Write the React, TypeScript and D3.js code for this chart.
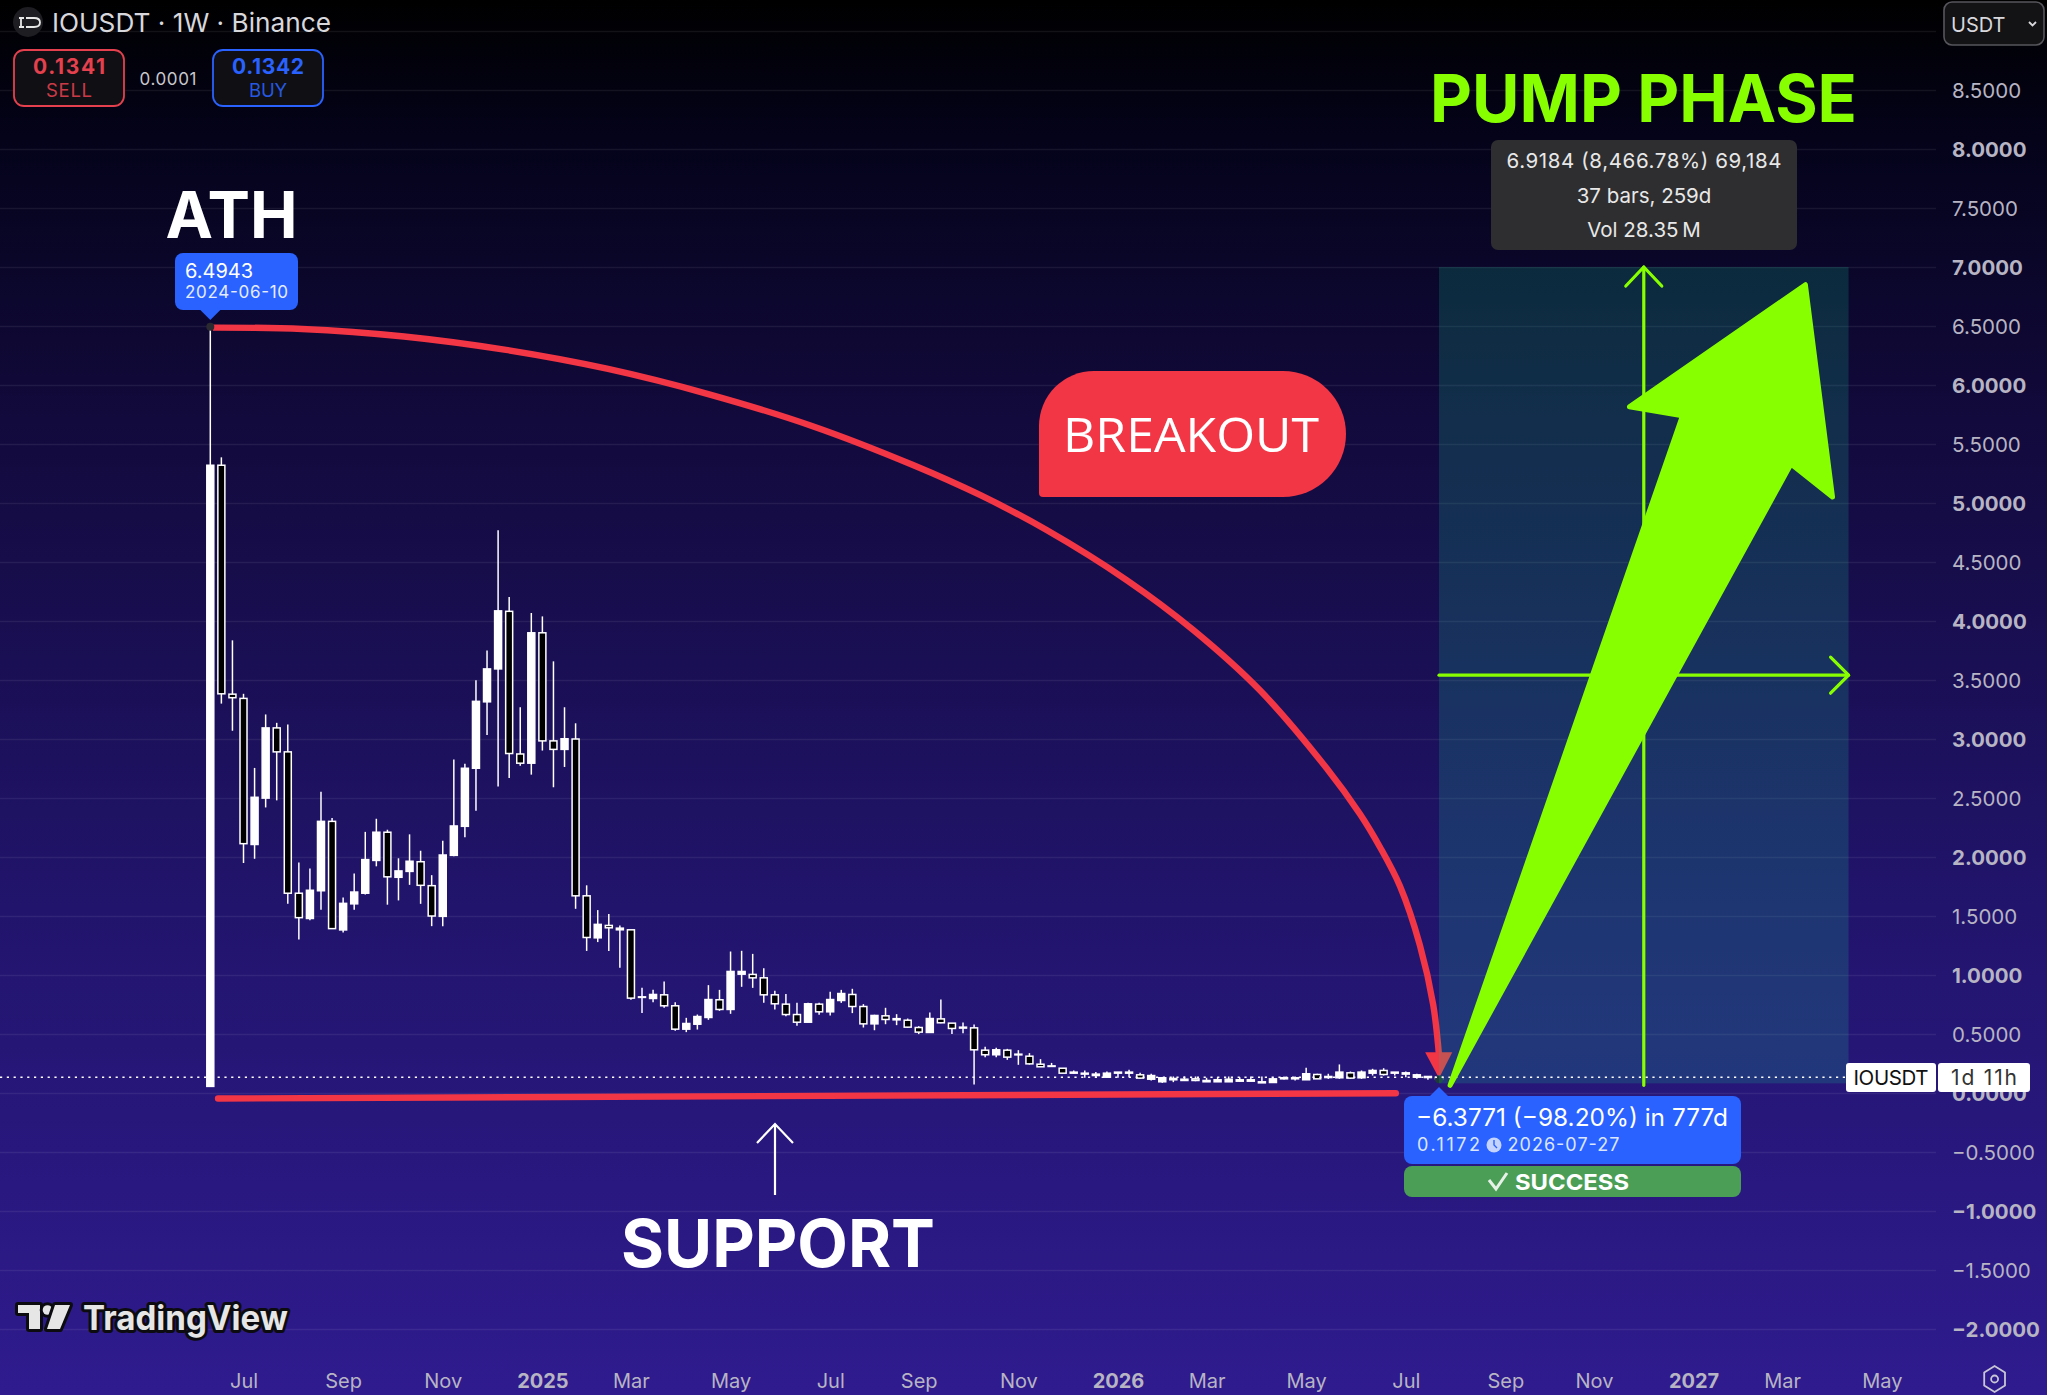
import { useEffect, useRef } from "react";
import * as d3 from "d3";

const WIDTH = 2047;
const HEIGHT = 1395;

// Weekly candles, 2024-06-10 to 2026-07-27
const opens = [
  0.056, 5.32, 3.38, 3.344, 2.106, 2.499, 3.094, 2.891, 1.693, 1.479,
  1.714, 2.302, 1.382, 1.603, 1.693, 1.971, 2.21, 1.828, 1.878, 1.96,
  1.757, 1.497, 2.014, 2.26, 2.752, 3.315, 3.594, 4.082, 2.873, 2.795,
  3.9, 2.984, 2.912, 3.0, 1.671, 1.315, 1.42, 1.383, 1.383, 0.81,
  0.801, 0.832, 0.739, 0.541, 0.583, 0.64, 0.79, 0.708, 1.007, 1.005,
  0.976, 0.832, 0.753, 0.665, 0.6, 0.753, 0.688, 0.784, 0.835, 0.733,
  0.586, 0.654, 0.63, 0.617, 0.555, 0.513, 0.628, 0.592, 0.558, 0.552,
  0.363, 0.324, 0.363, 0.329, 0.312, 0.244, 0.23, 0.21, 0.168, 0.168,
  0.16, 0.134, 0.177, 0.168, 0.154, 0.117, 0.095, 0.123, 0.117, 0.12,
  0.106, 0.095, 0.095, 0.112, 0.112, 0.095, 0.089, 0.12, 0.129, 0.112,
  0.157, 0.14, 0.129, 0.171, 0.129, 0.168, 0.191, 0.177, 0.171, 0.134, 0.14, 0.134,
];
const highs = [
  6.4943, 5.387, 3.836, 3.383, 2.755, 3.208, 3.137, 3.123, 1.953, 1.903,
  2.552, 2.331, 1.657, 1.86, 2.213, 2.324, 2.231, 1.989, 2.192, 2.053,
  1.846, 2.138, 2.827, 2.791, 3.497, 3.75, 4.77, 4.203, 3.269, 4.068,
  4.039, 3.658, 3.269, 3.133, 1.76, 1.55, 1.518, 1.42, 1.383, 0.891,
  0.874, 0.945, 0.77, 0.637, 0.665, 0.914, 0.874, 1.199, 1.205, 1.179,
  1.058, 0.866, 0.84, 0.764, 0.764, 0.764, 0.857, 0.874, 0.883, 0.753,
  0.663, 0.722, 0.668, 0.631, 0.566, 0.682, 0.792, 0.592, 0.597, 0.58,
  0.391, 0.383, 0.374, 0.363, 0.338, 0.287, 0.255, 0.21, 0.191, 0.191,
  0.177, 0.182, 0.177, 0.196, 0.171, 0.163, 0.134, 0.14, 0.14, 0.14,
  0.129, 0.134, 0.14, 0.134, 0.14, 0.14, 0.129, 0.14, 0.14, 0.213,
  0.163, 0.163, 0.242, 0.182, 0.191, 0.205, 0.21, 0.177, 0.182, 0.163, 0.14, 0.148,
];
const lows = [
  0.056, 3.3, 3.07, 1.949, 1.985, 2.42, 2.48, 1.603, 1.3, 1.464,
  1.553, 1.393, 1.361, 1.553, 1.682, 1.921, 1.596, 1.632, 1.764, 1.603,
  1.414, 1.414, 2.006, 2.167, 2.392, 3.034, 2.598, 2.67, 2.773, 2.698,
  2.902, 2.591, 2.763, 1.561, 1.204, 1.279, 1.204, 1.061, 0.79, 0.677,
  0.77, 0.722, 0.527, 0.516, 0.538, 0.62, 0.696, 0.671, 0.9, 0.891,
  0.764, 0.708, 0.651, 0.569, 0.6, 0.663, 0.657, 0.764, 0.677, 0.555,
  0.532, 0.583, 0.575, 0.552, 0.499, 0.513, 0.592, 0.499, 0.507, 0.072,
  0.304, 0.304, 0.281, 0.239, 0.241, 0.222, 0.222, 0.168, 0.163, 0.129,
  0.129, 0.129, 0.129, 0.134, 0.12, 0.106, 0.086, 0.092, 0.106, 0.1,
  0.095, 0.095, 0.095, 0.095, 0.1, 0.086, 0.089, 0.114, 0.106, 0.112,
  0.12, 0.12, 0.12, 0.12, 0.12, 0.148, 0.148, 0.148, 0.134, 0.12, 0.112, 0.106,
];
const closes = [
  5.32, 3.383, 3.35, 2.113, 2.506, 3.094, 2.891, 1.693, 1.486, 1.718,
  2.302, 1.393, 1.607, 1.703, 1.978, 2.21, 1.832, 1.882, 1.964, 1.76,
  1.5, 2.017, 2.263, 2.752, 3.319, 3.594, 4.086, 2.877, 2.795, 3.9,
  2.984, 2.912, 3.002, 1.671, 1.318, 1.429, 1.4, 1.397, 0.804, 0.815,
  0.835, 0.739, 0.541, 0.589, 0.648, 0.792, 0.708, 1.03, 1.03, 0.976,
  0.832, 0.756, 0.665, 0.6, 0.756, 0.688, 0.792, 0.843, 0.733, 0.586,
  0.657, 0.623, 0.62, 0.558, 0.516, 0.631, 0.595, 0.547, 0.55, 0.366,
  0.324, 0.366, 0.304, 0.323, 0.247, 0.222, 0.225, 0.168, 0.177, 0.16,
  0.148, 0.168, 0.168, 0.177, 0.126, 0.148, 0.129, 0.112, 0.106, 0.106,
  0.095, 0.112, 0.117, 0.1, 0.1, 0.086, 0.12, 0.129, 0.12, 0.163,
  0.12, 0.131, 0.177, 0.126, 0.177, 0.191, 0.157, 0.168, 0.16, 0.154, 0.131, 0.12,
];

const priceTicks = d3.range(-4, 19).map((d) => d * 0.5);
const timeTickBars = [3, 12, 21, 30, 38, 47, 56, 64, 73, 82, 90, 99, 108, 117, 125, 134, 142, 151];
const timeTickLabels = ["Jul", "Sep", "Nov", "2025", "Mar", "May", "Jul", "Sep", "Nov", "2026", "Mar", "May", "Jul", "Sep", "Nov", "2027", "Mar", "May"];

// Drawings, as [bar, price]
const lastPrice = 0.1335;
const fallCurve: [number, number][] = [
  [0.24, 6.486], [8.29, 6.475], [17.5, 6.411], [26.71, 6.297], [35.93, 6.136], [45.14, 5.919],
  [54.35, 5.653], [63.48, 5.322], [69.53, 5.068], [75.55, 4.771], [82.78, 4.347], [88.8, 3.924],
  [94.8, 3.415], [100.85, 2.752], [103.86, 2.364], [105.66, 2.085], [107.47, 1.754], [109.27, 1.254], [110.48, 0.746], [111.02, 0.297],
];
const fallHead: [number, number][] = [[109.75, 0.345], [112.2, 0.345], [111, 0.125]];
const supportLine: [number, number][] = [[0.7, -0.047], [107.1, -0.002]];
const pumpBox = { fromBar: 111, toBar: 148, low: 0.0816, high: 7.0 };
const pumpArrow: [number, number][] = [
  [112, 0.065], [133, 5.74], [128.2, 5.815], [144.1, 6.85], [146.55, 5.05], [142.8, 5.33],
];

const RED = "#f23645";
const BLUE = "#2962ff";
const GREEN = "#88ff00";
const FONT = "Inter, 'Noto Sans', sans-serif";

export default function App() {
  const svgRef = useRef<SVGSVGElement>(null);

  useEffect(() => {
    const svg = d3.select(svgRef.current);
    svg.selectAll("*").remove();
    svg.attr("viewBox", `0 0 ${WIDTH} ${HEIGHT}`).attr("font-family", FONT);

    const x = d3.scaleLinear().domain([0, 111]).range([210.3, 1439]);
    const y = d3.scaleLinear().domain([0, 8.5]).range([1093, 90]);
    const line = d3.line<[number, number]>().x((d) => x(d[0])).y((d) => y(d[1]));

    // Background
    const defs = svg.append("defs");
    const grad = defs.append("linearGradient").attr("id", "bg").attr("x1", 0).attr("x2", 0).attr("y1", 0).attr("y2", 1);
    [
      [0, "#000000"],
      [0.1, "#04031a"],
      [0.3, "#120a3c"],
      [0.65, "#21146c"],
      [1, "#2f1b8e"],
    ].forEach(([o, c]) => grad.append("stop").attr("offset", o as number).attr("stop-color", c as string));
    svg.append("rect").attr("width", WIDTH).attr("height", HEIGHT).attr("fill", "url(#bg)");

    // Price axis, the ticks double as grid lines
    const yAxis = svg.append("g").attr("transform", "translate(1936,0)").call(
      d3.axisRight(y).tickValues(priceTicks).tickSize(-1936).tickPadding(16).tickFormat((d) => {
        const v = +d;
        if (v === 9) return "";
        return (v < 0 ? "\u2212" : "") + Math.abs(v).toFixed(4);
      }),
    );
    yAxis.select(".domain").remove();
    yAxis.selectAll(".tick line").attr("stroke", "#ffffff").attr("stroke-opacity", 0.07).attr("stroke-width", 1.5);
    yAxis.selectAll<SVGTextElement, number>(".tick text")
      .attr("y", 1).attr("fill", "#b7b4c4").attr("font-size", 20.5).attr("font-family", FONT)
      .attr("font-weight", (d) => (Number.isInteger(d) ? 700 : 400));

    // Time axis
    const xAxis = svg.append("g").attr("transform", "translate(0,1374)").call(
      d3.axisBottom(x).tickValues(timeTickBars).tickSize(0).tickPadding(0)
        .tickFormat((_d, i) => timeTickLabels[i]),
    );
    xAxis.select(".domain").remove();
    xAxis.selectAll<SVGTextElement, number>(".tick text")
      .attr("fill", "#b7b4c4").attr("font-size", 20).attr("font-family", FONT)
      .attr("font-weight", (_d, i) => (/^\d/.test(timeTickLabels[i]) ? 700 : 400));

    // Fall from the high: curve and head, the pump box goes over the head
    svg.append("path")
      .attr("d", d3.line<[number, number]>().x((d) => x(d[0])).y((d) => y(d[1])).curve(d3.curveCatmullRom.alpha(0.5))(fallCurve))
      .attr("fill", "none").attr("stroke", RED).attr("stroke-width", 6.4);
    svg.append("path").attr("d", line(fallHead) + "Z").attr("fill", RED);

    // Candles
    const bars = d3.range(opens.length);
    svg.append("g").selectAll("line").data(bars).join("line")
      .attr("x1", (i) => x(i)).attr("x2", (i) => x(i))
      .attr("y1", (i) => y(highs[i])).attr("y2", (i) => y(lows[i]))
      .attr("stroke", "#ffffff").attr("stroke-width", 1.5);
    svg.append("g").selectAll("rect").data(bars).join("rect")
      .attr("x", (i) => x(i) - 3.5).attr("width", 7)
      .attr("y", (i) => y(Math.max(opens[i], closes[i])))
      .attr("height", (i) => Math.abs(y(opens[i]) - y(closes[i])))
      .attr("fill", (i) => (closes[i] >= opens[i] ? "#ffffff" : "#000000"))
      .attr("stroke", "#ffffff").attr("stroke-width", 1.5);

    // Anchors of the price range tool
    svg.append("circle").attr("cx", x(0)).attr("cy", y(6.4943)).attr("r", 4).attr("fill", "#2a2a30");
    svg.append("circle").attr("cx", x(111)).attr("cy", y(0.1172)).attr("r", 4).attr("fill", "#1f3a3a");

    // Pump box
    svg.append("rect")
      .attr("x", x(pumpBox.fromBar)).attr("width", x(pumpBox.toBar) - x(pumpBox.fromBar))
      .attr("y", y(pumpBox.high)).attr("height", y(pumpBox.low) - y(pumpBox.high))
      .attr("fill", "#14be8c").attr("fill-opacity", 0.2);

    const midBar = (pumpBox.fromBar + pumpBox.toBar) / 2;
    const midPrice = (pumpBox.low + pumpBox.high) / 2;
    const green = svg.append("g").attr("fill", "none").attr("stroke", GREEN).attr("stroke-width", 3.2).attr("stroke-linecap", "round").attr("stroke-linejoin", "round");
    green.append("line").attr("x1", x(midBar)).attr("x2", x(midBar)).attr("y1", y(pumpBox.high)).attr("y2", y(pumpBox.low) + 2);
    green.append("polyline").attr("points", `${x(midBar) - 18},${y(pumpBox.high) + 19} ${x(midBar)},${y(pumpBox.high)} ${x(midBar) + 18},${y(pumpBox.high) + 19}`);
    green.append("line").attr("x1", x(pumpBox.fromBar)).attr("x2", x(pumpBox.toBar)).attr("y1", y(midPrice)).attr("y2", y(midPrice));
    green.append("polyline").attr("points", `${x(pumpBox.toBar) - 18},${y(midPrice) - 18} ${x(pumpBox.toBar)},${y(midPrice)} ${x(pumpBox.toBar) - 18},${y(midPrice) + 18}`);

    // Last price line
    svg.append("line")
      .attr("x1", 0).attr("x2", 1846).attr("y1", y(lastPrice)).attr("y2", y(lastPrice))
      .attr("stroke", "#ffffff").attr("stroke-width", 1.6).attr("stroke-dasharray", "2.2 4.6");

    // Support line and the big arrow
    svg.append("path").attr("d", line(supportLine)).attr("fill", "none").attr("stroke", RED).attr("stroke-width", 6.4).attr("stroke-linecap", "round");
    svg.append("path").attr("d", line(pumpArrow) + "Z").attr("fill", GREEN).attr("stroke", GREEN).attr("stroke-width", 5).attr("stroke-linejoin", "round");

    // Header
    svg.append("circle").attr("cx", 28).attr("cy", 22).attr("r", 15).attr("fill", "#1d1d22");
    svg.append("path").attr("d", "M19 18h5M21 18v9M19 27h5M26 18h8q6 0 6 4.500t-6 4.500h-8").attr("fill", "none").attr("stroke", "#e8e8e8").attr("stroke-width", 1.8);
    svg.append("text").attr("x", 52).attr("y", 32).attr("font-size", 26).attr("textLength", 279).attr("lengthAdjust", "spacingAndGlyphs").attr("fill", "#d8d8dc").text("IOUSDT · 1W · Binance");

    const quoteBox = (bx: number, color: string, price: string, label: string, labelWidth: number) => {
      svg.append("rect").attr("x", bx).attr("y", 50).attr("width", 110).attr("height", 56).attr("rx", 10)
        .attr("fill", "#101014").attr("stroke", color).attr("stroke-width", 1.8);
      svg.append("text").attr("x", bx + 55).attr("y", 74).attr("text-anchor", "middle").attr("font-size", 21).attr("font-weight", 700).attr("textLength", 72).attr("fill", color).text(price);
      svg.append("text").attr("x", bx + 55).attr("y", 97).attr("text-anchor", "middle").attr("font-size", 18.5).attr("textLength", labelWidth).attr("fill", color).attr("fill-opacity", 0.9).text(label);
    };
    quoteBox(14, "#e5404e", "0.1341", "SELL", 46);
    quoteBox(213, BLUE, "0.1342", "BUY", 38);
    svg.append("text").attr("x", 168).attr("y", 85).attr("text-anchor", "middle").attr("font-size", 17).attr("textLength", 57).attr("fill", "#c8c8cc").text("0.0001");

    // USDT selector
    svg.append("rect").attr("x", 1944).attr("y", 2).attr("width", 100).attr("height", 43).attr("rx", 8).attr("fill", "#131316").attr("stroke", "#56565c").attr("stroke-width", 1.6);
    svg.append("text").attr("x", 1951).attr("y", 31.5).attr("font-size", 20).attr("fill", "#d8d8dc").text("USDT");
    svg.append("path").attr("d", "M2029 22l3.500 3.500l3.500-3.500").attr("fill", "none").attr("stroke", "#d8d8dc").attr("stroke-width", 1.8);

    // ATH
    svg.append("text").attr("x", 231.5).attr("y", 238).attr("text-anchor", "middle").attr("font-size", 65).attr("font-weight", 700).attr("textLength", 132).attr("lengthAdjust", "spacingAndGlyphs").attr("fill", "#ffffff").text("ATH");
    svg.append("rect").attr("x", 175).attr("y", 253).attr("width", 123).attr("height", 57).attr("rx", 8).attr("fill", BLUE);
    svg.append("path").attr("d", `M${x(0) - 10} 310L${x(0)} 320L${x(0) + 10} 310Z`).attr("fill", BLUE);
    svg.append("text").attr("x", 185).attr("y", 278).attr("font-size", 20).attr("fill", "#ffffff").text("6.4943");
    svg.append("text").attr("x", 185).attr("y", 298).attr("font-size", 17).attr("textLength", 103).attr("fill", "#e6ecff").text("2024-06-10");

    // Breakout
    svg.append("path")
      .attr("d", "M1094 371H1283A63 63 0 0 1 1283 497H1043Q1039 497 1039 493V426A55 55 0 0 1 1094 371Z")
      .attr("fill", RED);
    svg.append("text").attr("x", 1063).attr("y", 451.5).attr("font-size", 47).attr("font-family", "'Open Sans', sans-serif")
      .attr("textLength", 256).attr("lengthAdjust", "spacingAndGlyphs").attr("fill", "#ffffff").text("BREAKOUT");

    // Pump phase and its stats
    svg.append("text").attr("x", 1643.5).attr("y", 122).attr("text-anchor", "middle").attr("font-size", 66).attr("font-weight", 700).attr("textLength", 427).attr("lengthAdjust", "spacingAndGlyphs").attr("fill", GREEN).text("PUMP PHASE");
    svg.append("rect").attr("x", 1491).attr("y", 140).attr("width", 306).attr("height", 110).attr("rx", 7).attr("fill", "#2e2e30");
    svg.append("text").attr("x", 1644).attr("y", 168).attr("text-anchor", "middle").attr("font-size", 20.5).attr("textLength", 275).attr("fill", "#e8e8e8").text("6.9184 (8,466.78%) 69,184");
    ["37 bars, 259d", "Vol 28.35\u2009M"].forEach((t, i) => {
      svg.append("text").attr("x", 1644).attr("y", 202.5 + i * 34.5).attr("text-anchor", "middle").attr("font-size", 20.5).attr("fill", "#e8e8e8").text(t);
    });

    // Support
    svg.append("path").attr("d", "M775 1195V1124M757 1143L775 1124L793 1143").attr("fill", "none").attr("stroke", "#ffffff").attr("stroke-width", 2.2);
    svg.append("text").attr("x", 778).attr("y", 1266.5).attr("text-anchor", "middle").attr("font-size", 66).attr("font-weight", 700).attr("textLength", 314).attr("lengthAdjust", "spacingAndGlyphs").attr("fill", "#ffffff").text("SUPPORT");

    // Move tooltip
    svg.append("rect").attr("x", 1404).attr("y", 1096).attr("width", 337).attr("height", 68).attr("rx", 8).attr("fill", BLUE);
    svg.append("path").attr("d", `M${x(111) - 10} 1097L${x(111)} 1087L${x(111) + 10} 1097Z`).attr("fill", BLUE);
    svg.append("text").attr("x", 1416).attr("y", 1126).attr("font-size", 24).attr("textLength", 312).attr("lengthAdjust", "spacingAndGlyphs").attr("fill", "#ffffff").text("\u22126.3771 (\u221298.20%) in 777d");
    svg.append("text").attr("x", 1417).attr("y", 1150.5).attr("font-size", 18).attr("textLength", 63).attr("fill", "#dce6ff").text("0.1172");
    svg.append("circle").attr("cx", 1494).attr("cy", 1145).attr("r", 7.5).attr("fill", "#c4d3ff");
    svg.append("path").attr("d", "M1494 1140v5l3 3").attr("fill", "none").attr("stroke", BLUE).attr("stroke-width", 1.4);
    svg.append("text").attr("x", 1507.5).attr("y", 1150.5).attr("font-size", 18).attr("textLength", 112).attr("fill", "#dce6ff").text("2026-07-27");

    svg.append("rect").attr("x", 1404).attr("y", 1166).attr("width", 337).attr("height", 31).attr("rx", 8).attr("fill", "#4b9e56");
    svg.append("path").attr("d", "M1489 1180L1496 1189L1507 1173").attr("fill", "none").attr("stroke", "#e6f2e8").attr("stroke-width", 3);
    svg.append("text").attr("x", 1515).attr("y", 1190).attr("font-size", 22).attr("font-weight", 700).attr("textLength", 114).attr("lengthAdjust", "spacingAndGlyphs").attr("fill", "#ffffff").text("SUCCESS");

    // Last price label
    svg.append("rect").attr("x", 1846).attr("y", 1063).attr("width", 90).attr("height", 29).attr("rx", 3).attr("fill", "#ffffff");
    svg.append("rect").attr("x", 1938).attr("y", 1063).attr("width", 92).attr("height", 29).attr("rx", 3).attr("fill", "#ffffff");
    svg.append("text").attr("x", 1891).attr("y", 1085).attr("text-anchor", "middle").attr("font-size", 20.5).attr("textLength", 75).attr("fill", "#111111").text("IOUSDT");
    svg.append("text").attr("x", 1984).attr("y", 1085).attr("text-anchor", "middle").attr("font-size", 21).attr("textLength", 66).attr("fill", "#333333").text("1d 11h");

    // Settings icon
    const hex = d3.range(6).map((i) => {
      const a = Math.PI / 3 * i + Math.PI / 6;
      return `${1994.6 + 12 * Math.cos(a)},${1379 + 13 * Math.sin(a)}`;
    }).join(" ");
    svg.append("polygon").attr("points", hex).attr("fill", "none").attr("stroke", "#c8c6d4").attr("stroke-width", 1.8);
    svg.append("circle").attr("cx", 1994.6).attr("cy", 1379).attr("r", 3.5).attr("fill", "none").attr("stroke", "#c8c6d4").attr("stroke-width", 1.8);

    // TradingView mark
    const logo = svg.append("g").attr("fill", "#e6e6e6").attr("stroke", "#0c0c10").attr("stroke-width", 6).attr("stroke-linejoin", "round").style("paint-order", "stroke");
    logo.append("path").attr("d", "M18 1305H40V1329H29V1313H18Z");
    logo.append("circle").attr("cx", 47.5).attr("cy", 1310).attr("r", 4.8);
    logo.append("path").attr("d", "M55 1305H70L60 1329H47Z");
    logo.append("text").attr("x", 83).attr("y", 1330).attr("font-size", 34).attr("font-weight", 700).attr("textLength", 205).attr("lengthAdjust", "spacingAndGlyphs").text("TradingView");
  }, []);

  return <svg ref={svgRef} width={WIDTH} height={HEIGHT} style={{ position: "absolute", left: 0, top: 0, display: "block" }} />;
}
